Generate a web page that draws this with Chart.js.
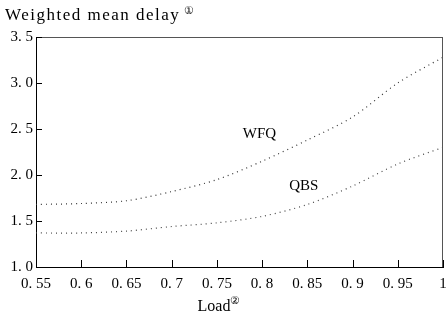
<!DOCTYPE html>
<html>
<head>
<meta charset="utf-8">
<script src="https://cdn.jsdelivr.net/npm/chart.js@4/dist/chart.umd.min.js"></script>
<style>
  html, body { margin: 0; padding: 0; background: #fff; }
  #wrap { width: 446px; height: 319px; }
</style>
</head>
<body>
<div id="wrap"><canvas id="delay"></canvas></div>
<script>
const loads = [0.55, 0.6, 0.65, 0.7, 0.75, 0.8, 0.85, 0.9, 0.95, 1.0];
const wfqDelay = [1.68, 1.69, 1.72, 1.82, 1.95, 2.15, 2.38, 2.63, 3.0, 3.28];
const qbsDelay = [1.37, 1.37, 1.39, 1.44, 1.48, 1.55, 1.68, 1.88, 2.12, 2.3];
const seriesNames = ['WFQ', 'QBS'];
const labelSpots = [[0.797, 2.45], [0.846, 1.88]];

const serif = "'Liberation Serif', 'DejaVu Serif', serif";

const frame = {
  id: 'frame',
  afterDraw(chart) {
    const { ctx, chartArea: a, scales } = chart;
    ctx.save();
    // top and right border
    ctx.strokeStyle = '#555';
    ctx.lineWidth = 1;
    ctx.beginPath();
    ctx.moveTo(a.left, a.top + 0.5);
    ctx.lineTo(a.right, a.top + 0.5);
    ctx.moveTo(a.right - 0.5, a.top);
    ctx.lineTo(a.right - 0.5, a.bottom);
    ctx.stroke();
    // inward ticks
    ctx.strokeStyle = '#000';
    ctx.beginPath();
    scales.x.ticks.forEach(t => {
      const px = Math.round(scales.x.getPixelForValue(t.value)) + 0.5;
      ctx.moveTo(px, a.bottom);
      ctx.lineTo(px, a.bottom - 7);
    });
    scales.y.ticks.forEach(t => {
      const py = Math.round(scales.y.getPixelForValue(t.value)) + 0.5;
      ctx.moveTo(a.left, py);
      ctx.lineTo(a.left + 6, py);
    });
    ctx.stroke();
    // series labels
    ctx.fillStyle = '#000';
    ctx.font = '15px ' + serif;
    ctx.textAlign = 'center';
    ctx.textBaseline = 'middle';
    seriesNames.forEach((n, i) => {
      ctx.fillText(n, scales.x.getPixelForValue(labelSpots[i][0]), scales.y.getPixelForValue(labelSpots[i][1]));
    });
    // titles with superscript marks
    ctx.textAlign = 'left';
    ctx.textBaseline = 'alphabetic';
    ctx.font = '17px ' + serif;
    ctx.letterSpacing = '1.5px';
    const t1 = 'Weighted mean delay';
    ctx.fillText(t1, 5, 20);
    const w = ctx.measureText(t1).width;
    ctx.letterSpacing = '0px';
    ctx.font = '11px ' + serif;
    ctx.fillText('\u2460', 5 + w + 4, 14);
    ctx.font = '16px ' + serif;
    const t2 = 'Load';
    const w2 = ctx.measureText(t2).width;
    const cx = 214;
    ctx.fillText(t2, cx - w2 / 2, 311);
    ctx.font = '11px ' + serif;
    ctx.fillText('\u2461', cx + w2 / 2, 304);
    ctx.restore();
  }
};

const dots = { borderDash: [1, 4], borderWidth: 1.2, pointRadius: 0, fill: false, tension: 0.3 };

new Chart(document.getElementById('delay'), {
  type: 'line',
  data: {
    datasets: [
      Object.assign({ label: seriesNames[0], data: loads.map((x, i) => ({ x, y: wfqDelay[i] })), borderColor: '#333' }, dots),
      Object.assign({ label: seriesNames[1], data: loads.map((x, i) => ({ x, y: qbsDelay[i] })), borderColor: '#444' }, dots)
    ]
  },
  options: {
    responsive: true,
    maintainAspectRatio: false,
    animation: false,
    layout: { padding: { top: 37, right: 3, left: 0, bottom: 0 } },
    plugins: { legend: { display: false }, tooltip: { enabled: false } },
    scales: {
      x: {
        type: 'linear', min: 0.55, max: 1,
        grid: { display: false, drawTicks: false },
        border: { color: '#000', width: 1 },
        ticks: { stepSize: 0.05, padding: 8, color: '#000', maxRotation: 0, autoSkip: false,
          font: { family: serif, size: 15 },
          callback: v => String(Math.round(v * 100) / 100).replace('.', '. ') },
        afterFit(s) { s.height = 52; s.paddingRight = 0; s.paddingLeft = 0; }
      },
      y: {
        min: 1, max: 3.5,
        grid: { display: false, drawTicks: false },
        border: { color: '#000', width: 1 },
        ticks: { stepSize: 0.5, padding: 3, color: '#000',
          font: { family: serif, size: 15 },
          callback: v => v.toFixed(1).replace('.', '. ') },
        afterFit(s) { s.width = 36; }
      }
    }
  },
  plugins: [frame]
});
</script>
</body>
</html>
